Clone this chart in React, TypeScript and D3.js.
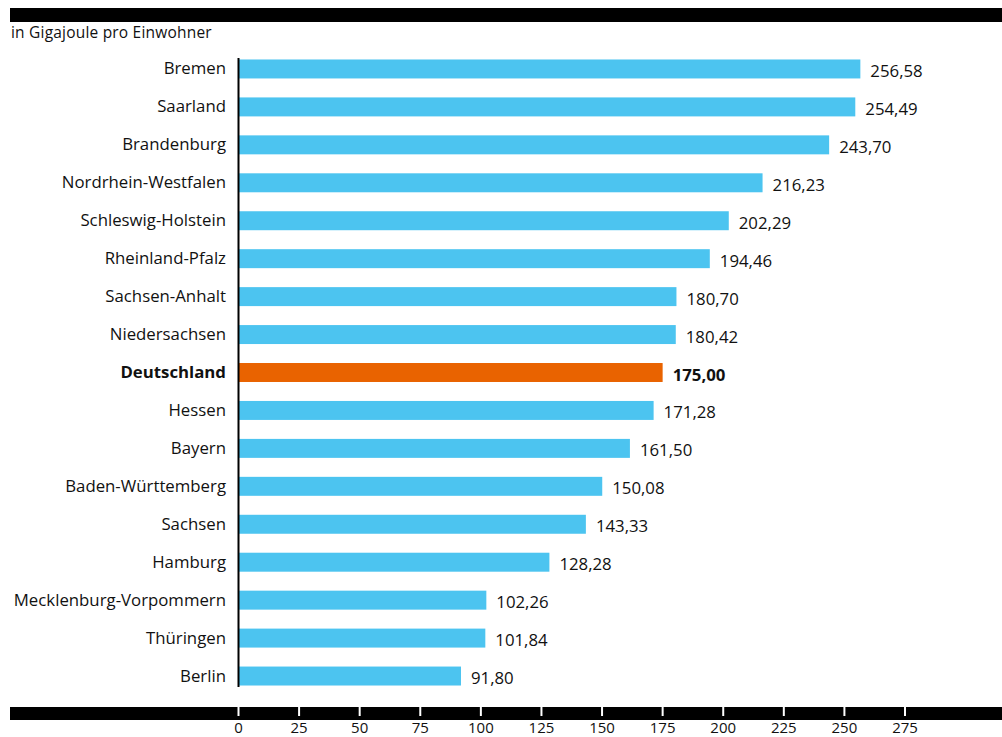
import React, { useEffect, useRef } from 'react';
import * as d3 from 'd3';

const states = [
  'Bremen', 'Saarland', 'Brandenburg', 'Nordrhein-Westfalen', 'Schleswig-Holstein',
  'Rheinland-Pfalz', 'Sachsen-Anhalt', 'Niedersachsen', 'Deutschland', 'Hessen',
  'Bayern', 'Baden-Württemberg', 'Sachsen', 'Hamburg', 'Mecklenburg-Vorpommern',
  'Thüringen', 'Berlin',
];
const values = [
  256.58, 254.49, 243.7, 216.23, 202.29, 194.46, 180.7, 180.42, 175.0, 171.28,
  161.5, 150.08, 143.33, 128.28, 102.26, 101.84, 91.8,
];
const tickValues = [0, 25, 50, 75, 100, 125, 150, 175, 200, 225, 250, 275];
const highlight = 'Deutschland';

const App: React.FC = () => {
  const ref = useRef<HTMLDivElement | null>(null);

  useEffect(() => {
    if (!ref.current) return;
    d3.select(ref.current).selectAll('*').remove();

    const W = 1002;
    const H = 737;
    const font = '"Open Sans", "Noto Sans", sans-serif';
    const fs = 16.8;

    const svg = d3.select(ref.current)
      .append('svg')
      .attr('width', W)
      .attr('height', H)
      .style('display', 'block')
      .style('font-family', font);

    const x = d3.scaleLinear().domain([0, 275]).range([238.5, 905]);
    const y = d3.scaleBand<string>()
      .domain(states)
      .range([50, 695])
      .paddingInner(0.5)
      .paddingOuter(0.25);

    // top band + unit note
    svg.append('rect').attr('x', 10).attr('y', 8).attr('width', W - 10).attr('height', 14).attr('fill', '#000');
    svg.append('text')
      .attr('x', 11).attr('y', 38)
      .attr('font-size', 15.5)
      .attr('letter-spacing', 0.2)
      .attr('fill', '#111')
      .text('in Gigajoule pro Einwohner');

    const data = states.map((s, i) => ({ s, v: values[i] }));

    svg.selectAll('rect.bar')
      .data(data)
      .enter()
      .append('rect')
      .attr('class', 'bar')
      .attr('x', x(0))
      .attr('y', d => y(d.s) || 0)
      .attr('width', d => x(d.v) - x(0))
      .attr('height', y.bandwidth())
      .attr('fill', d => (d.s === highlight ? '#e96300' : '#4cc4f0'));

    // category labels
    svg.selectAll('text.cat')
      .data(data)
      .enter()
      .append('text')
      .attr('class', 'cat')
      .attr('x', 226)
      .attr('y', d => (y(d.s) || 0) + y.bandwidth() / 2 + 5.5)
      .attr('text-anchor', 'end')
      .attr('font-size', fs)
      .attr('font-weight', d => (d.s === highlight ? 700 : 400))
      .attr('fill', '#111')
      .text(d => d.s);

    // value labels
    const fmt = (v: number) => v.toFixed(2).replace('.', ',');
    svg.selectAll('text.val')
      .data(data)
      .enter()
      .append('text')
      .attr('class', 'val')
      .attr('x', d => x(d.v) + 10)
      .attr('y', d => (y(d.s) || 0) + y.bandwidth() / 2 + 8)
      .attr('font-size', fs)
      .attr('font-weight', d => (d.s === highlight ? 700 : 400))
      .attr('fill', '#111')
      .text(d => fmt(d.v));

    // vertical axis line
    svg.append('line')
      .attr('x1', x(0)).attr('x2', x(0))
      .attr('y1', 58).attr('y2', 687)
      .attr('stroke', '#000').attr('stroke-width', 2);

    // bottom band with white ticks
    svg.append('rect').attr('x', 10).attr('y', 707).attr('width', W - 10).attr('height', 13).attr('fill', '#000');
    svg.selectAll('line.tick')
      .data(tickValues)
      .enter()
      .append('line')
      .attr('x1', d => x(d)).attr('x2', d => x(d))
      .attr('y1', 707).attr('y2', 716)
      .attr('stroke', '#fff').attr('stroke-width', 2);
    svg.selectAll('text.tick')
      .data(tickValues)
      .enter()
      .append('text')
      .attr('x', d => x(d))
      .attr('y', 733)
      .attr('text-anchor', 'middle')
      .attr('font-size', 15)
      .attr('fill', '#111')
      .text(d => String(d));
  }, []);

  return <div ref={ref} style={{ position: 'absolute', left: 0, top: 0 }} />;
};

export default App;
